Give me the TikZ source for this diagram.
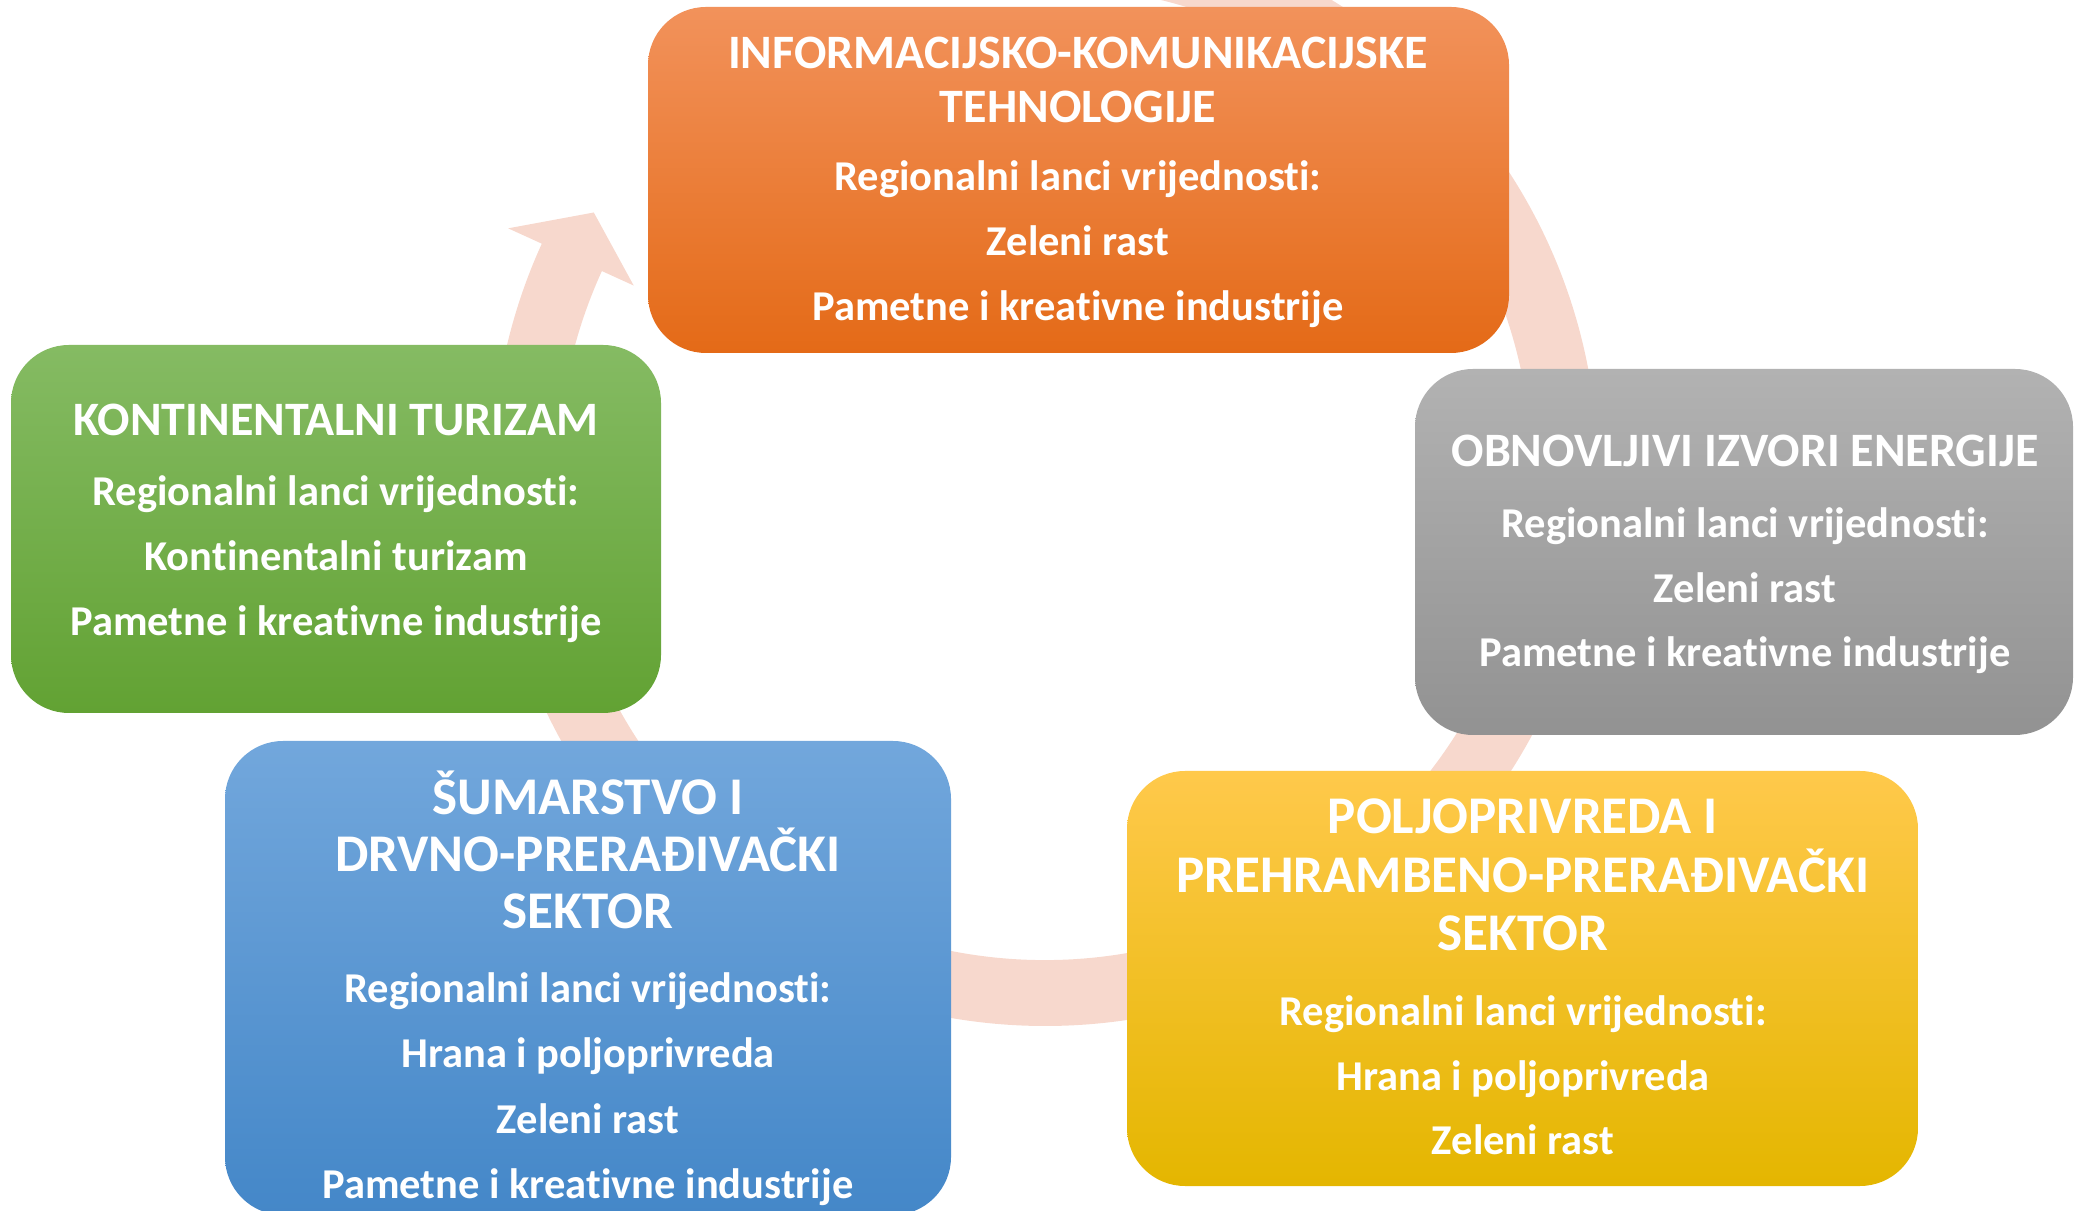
\documentclass[tikz,border=0pt]{standalone}
\usepackage{fontspec}
\setmainfont{Carlito}[Ligatures=NoCommon]
\usetikzlibrary{calc}
\definecolor{ringpink}{HTML}{F7D8CD}
\definecolor{orT}{HTML}{F2925B}
\definecolor{orM}{HTML}{F47F2E}
\definecolor{orB}{HTML}{E46A17}
\definecolor{grT}{HTML}{85BB63}
\definecolor{grM}{HTML}{70AD47}
\definecolor{grB}{HTML}{62A233}
\definecolor{gyT}{HTML}{B2B2B2}
\definecolor{gyM}{HTML}{A3A3A3}
\definecolor{gyB}{HTML}{929292}
\definecolor{ylT}{HTML}{FFC94B}
\definecolor{ylM}{HTML}{FFC505}
\definecolor{ylB}{HTML}{E4B600}
\definecolor{blT}{HTML}{72A7DC}
\definecolor{blM}{HTML}{5B9BD5}
\definecolor{blB}{HTML}{4487C8}
\begin{document}
\begin{tikzpicture}[x=1pt,y=1pt,
  sbox/.style={rounded corners=58pt, inner sep=0pt, draw=none},
  ttl/.style={text=white, font=\bfseries\fontsize{48}{56}\selectfont, anchor=base, inner sep=0pt},
  bigttl/.style={text=white, font=\bfseries\fontsize{53}{60}\selectfont, anchor=base, inner sep=0pt},
  txt/.style={text=white, font=\bfseries\fontsize{42.5}{50}\selectfont, anchor=base, inner sep=0pt}]
\useasboundingbox (0,0) rectangle (2074,1210);
\clip (0,0) rectangle (2074,1210);
% ring arrow
\coordinate (C) at (1045,737);
\fill[ringpink] ($(C)+(90:553)$) arc[start angle=90, end angle=-204.5, radius=553]
  -- ($(C)+(155.5:590)$) -- ($(C)+(150:521)$) -- ($(C)+(155.5:452)$)
  -- ($(C)+(155.5:487)$) arc[start angle=-204.5, end angle=90, radius=487] -- cycle;
% boxes
\node[sbox, minimum width=861pt, minimum height=346pt, top color=orT, middle color=orM, bottom color=orB] (ict) at (1078.5,1030) {};
\node[sbox, minimum width=650pt, minimum height=368pt, top color=grT, middle color=grM, bottom color=grB] (tur) at (336,681) {};
\node[sbox, minimum width=658pt, minimum height=366pt, top color=gyT, middle color=gyM, bottom color=gyB] (oie) at (1744,658) {};
\node[sbox, minimum width=791pt, minimum height=415pt, top color=ylT, middle color=ylM, bottom color=ylB] (pol) at (1522.5,231.5) {};
\node[sbox, minimum width=726pt, minimum height=474pt, top color=blT, middle color=blM, bottom color=blB] (sum) at (588,232) {};
% orange text
\node[ttl] (ict1) at (1078,1141) {INFORMACIJSKO-KOMUNIKACIJSKE};
\node[ttl] (ict2) at (1078,1087) {TEHNOLOGIJE};
\node[txt] (ict3) at (1078,1019) {Regionalni lanci vrijednosti:};
\node[txt] (ict4) at (1078,954) {Zeleni rast};
\node[txt] (ict5) at (1078,889) {Pametne i kreativne industrije};
% green text
\node[ttl] (tur1) at (336,774) {KONTINENTALNI TURIZAM};
\node[txt] (tur2) at (336,704) {Regionalni lanci vrijednosti:};
\node[txt] (tur3) at (336,639) {Kontinentalni turizam};
\node[txt] (tur4) at (336,574) {Pametne i kreativne industrije};
% gray text
\node[ttl] (oie1) at (1745,743) {OBNOVLJIVI IZVORI ENERGIJE};
\node[txt] (oie2) at (1745,672) {Regionalni lanci vrijednosti:};
\node[txt] (oie3) at (1745,607) {Zeleni rast};
\node[txt] (oie4) at (1745,543) {Pametne i kreativne industrije};
% yellow text
\node[bigttl] (pol1) at (1523,376) {POLJOPRIVREDA I};
\node[bigttl] (pol2) at (1523,317) {PREHRAMBENO-PRERAĐIVAČKI};
\node[bigttl] (pol3) at (1523,259) {SEKTOR};
\node[txt] (pol4) at (1523,184) {Regionalni lanci vrijednosti:};
\node[txt] (pol5) at (1523,120) {Hrana i poljoprivreda};
\node[txt] (pol6) at (1523,56) {Zeleni rast};
% blue text
\node[bigttl] (sum1) at (588,395) {ŠUMARSTVO I};
\node[bigttl] (sum2) at (588,338) {DRVNO-PRERAĐIVAČKI};
\node[bigttl] (sum3) at (588,281) {SEKTOR};
\node[txt] (sum4) at (588,207) {Regionalni lanci vrijednosti:};
\node[txt] (sum5) at (588,142) {Hrana i poljoprivreda};
\node[txt] (sum6) at (588,77) {Zeleni rast};
\node[txt] (sum7) at (588,12) {Pametne i kreativne industrije};
\end{tikzpicture}
\end{document}
